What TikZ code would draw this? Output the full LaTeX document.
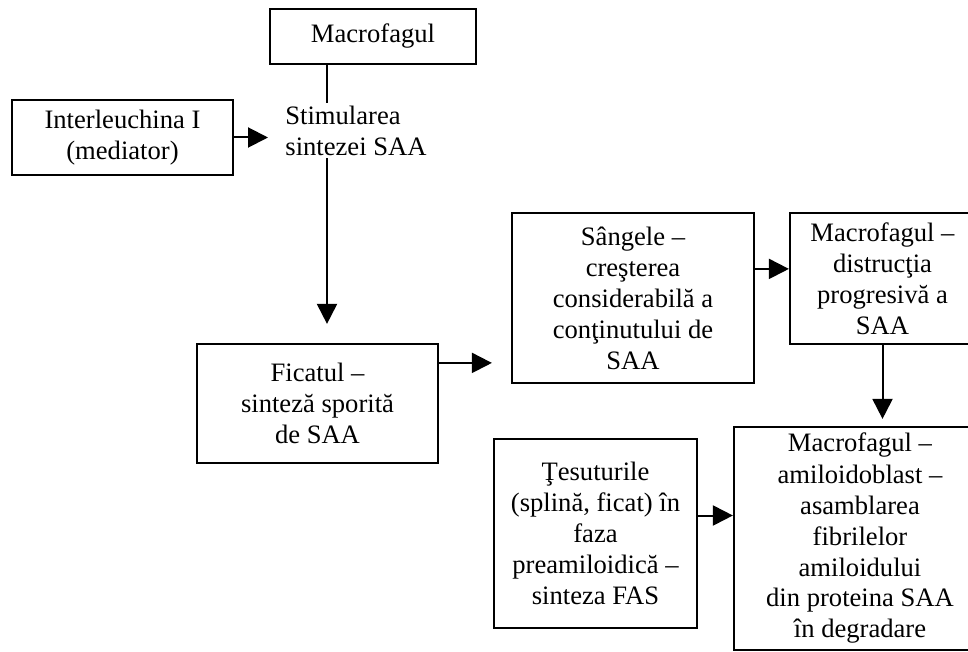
\documentclass[tikz,border=0pt]{standalone}
\usepackage{fontspec}
\setmainfont{Liberation Serif}
\usepackage{tikz}
\usetikzlibrary{arrows.meta, positioning}

\begin{document}
\begin{tikzpicture}[
  x=0.5pt, y=-0.5pt,
  stage/.style={rectangle, draw=black, line width=1.1pt, align=center, inner sep=0pt, font=\fontsize{13.3}{15.5}\selectfont},
  label/.style={align=left, inner sep=0pt, font=\fontsize{13.3}{15.5}\selectfont},
  arrow/.style={-{Triangle[length=10pt, width=10pt]}, line width=1pt, black}
]
  \useasboundingbox (0,0) rectangle (968,652);
  \clip (0,0) rectangle (968,652);

  \node[stage, minimum width=103pt, minimum height=27.5pt] (macro) at (373,36.5) {Macrofagul};
  \node[stage, minimum width=110.5pt, minimum height=37.5pt] (inter) at (122.5,137.5) {Interleuchina I\\(mediator)};
  \node[label, anchor=west] (stim) at (285,131) {Stimularea\\sintezei SAA};
  \coordinate (trunk) at (327,0);

  \node[stage, minimum width=120.5pt, minimum height=59.5pt] (ficat) at (317.5,403.5) {Ficatul --\\sinteză sporită\\de SAA};
  \node[stage, minimum width=121pt, minimum height=85pt] (sange) at (633,298) {Sângele --\\creşterea\\considerabilă a\\conţinutului de\\SAA};
  \node[stage, minimum width=92.5pt, minimum height=65.5pt] (distr) at (882.5,278.5) {Macrofagul --\\distrucţia\\progresivă a\\SAA};
  \node[stage, minimum width=101.5pt, minimum height=94.5pt] (tesut) at (595.5,533.5) {Ţesuturile\\(splină, ficat) în\\faza\\preamiloidică --\\sinteza FAS};
  \node[stage, minimum width=126pt, minimum height=111.5pt] (amilo) at (860,538.5) {Macrofagul --\\amiloidoblast --\\asamblarea\\fibrilelor\\amiloidului\\din proteina SAA\\în degradare};

  \draw[arrow, shorten >=8.5pt] (inter.east) -- (inter.east -| stim.west);
  \draw[line width=1pt] (macro.south -| trunk) -- ([yshift=1.5pt]stim.north -| trunk);
  \draw[arrow, shorten >=9.5pt] ([yshift=-1pt]stim.south -| trunk) -- (ficat.north -| trunk);
  \draw[arrow, shorten >=9.5pt] ([yshift=-10pt]ficat.north east) -- ([yshift=-10pt]ficat.north east -| sange.west);
  \draw[arrow] ([yshift=-28.5pt]sange.north east) -- ([yshift=-28.5pt]sange.north east -| distr.west);
  \draw[arrow, shorten >=3.5pt] (distr.south) -- (distr.south |- amilo.north);
  \draw[arrow] ([yshift=9pt]tesut.east) -- ([yshift=9pt]tesut.east -| amilo.west);
\end{tikzpicture}
\end{document}
